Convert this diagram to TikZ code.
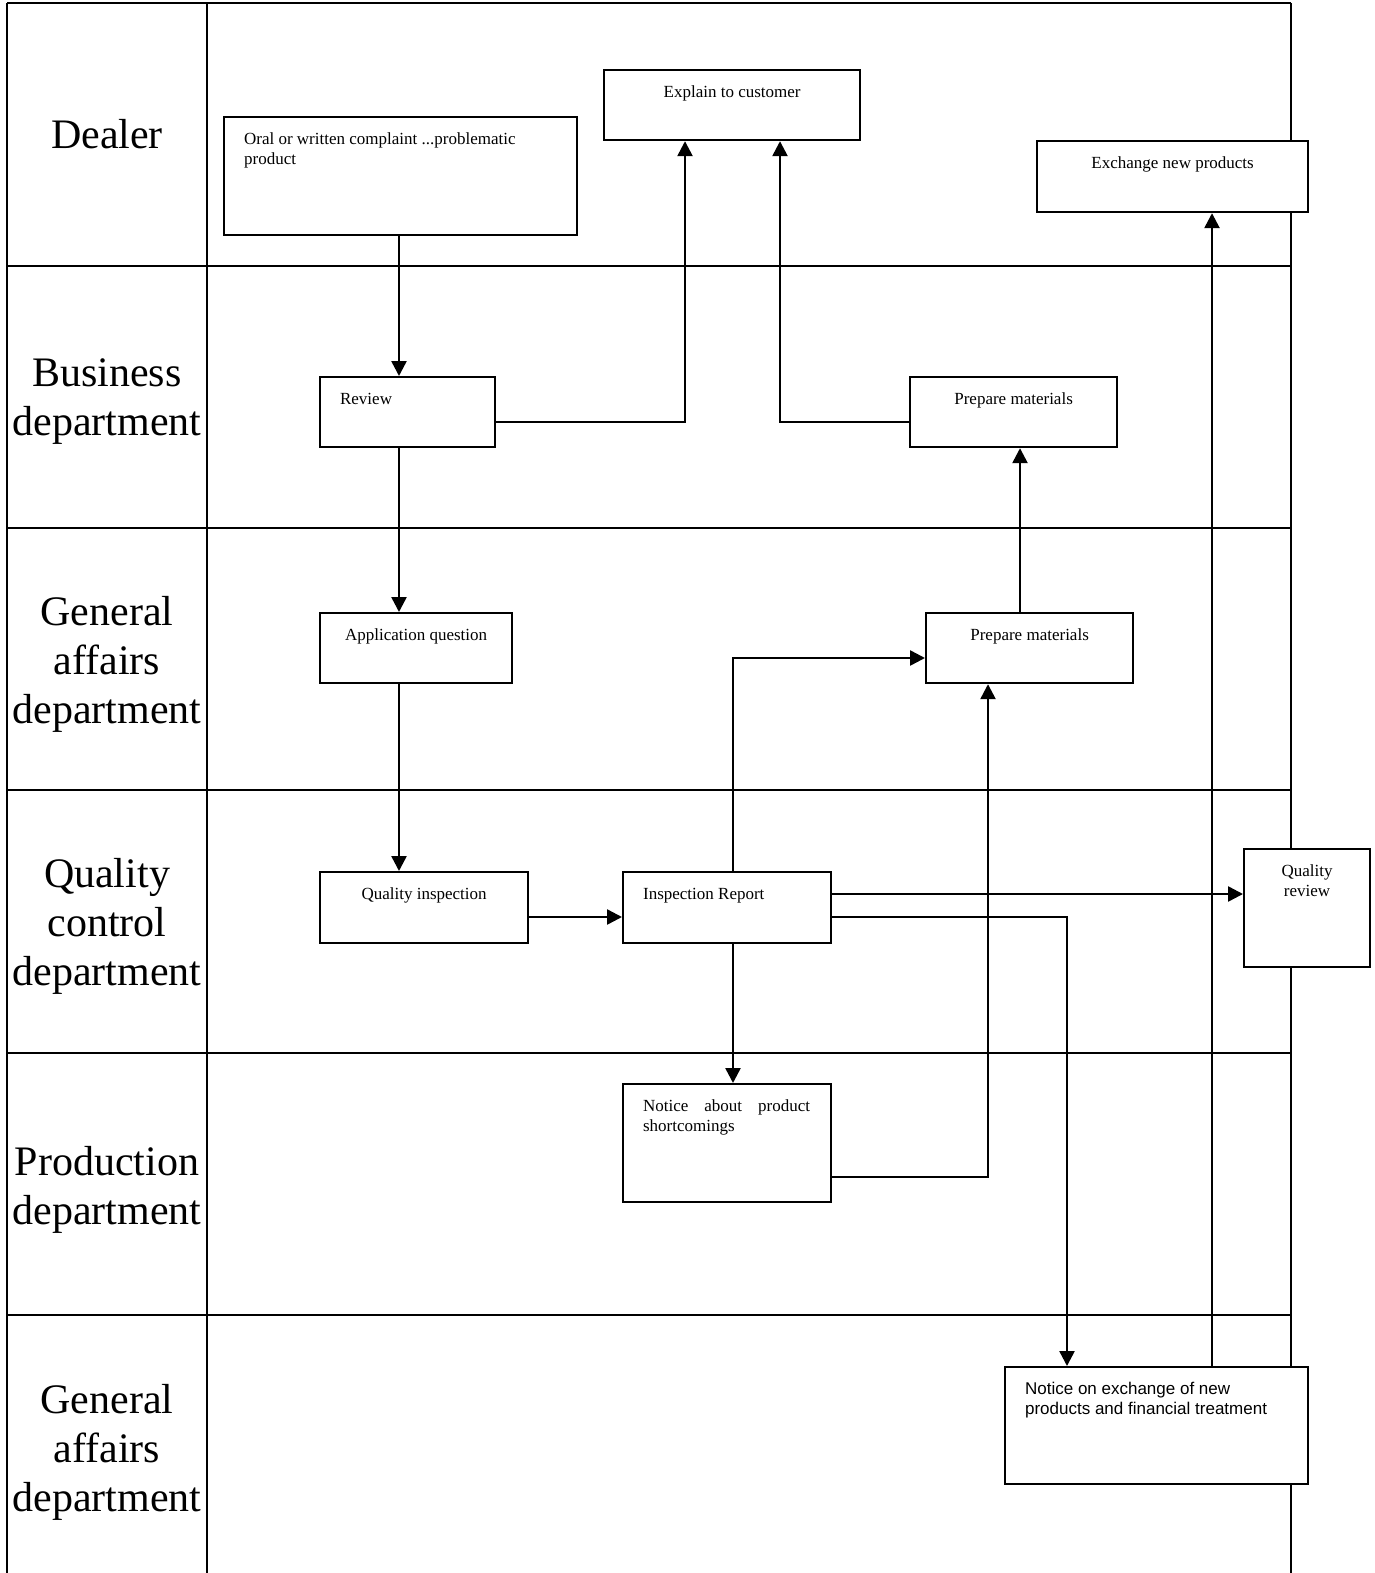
\documentclass[tikz,border=0pt]{standalone}
\usepackage{fontspec}
\setmainfont{Liberation Serif}
\newfontfamily\arialf{Liberation Sans}
\usetikzlibrary{arrows.meta}
\newcommand\bxc[3]{\parbox[c][#2pt][t]{#1pt}{\centering\rule{0pt}{27pt}#3\par}}
\newcommand\bxl[4]{\parbox[c][#2pt][t]{#1pt}{\hspace*{20pt}\parbox[t]{#3pt}{\raggedright\rule{0pt}{27pt}#4}}}
\newcommand\bxj[4]{\parbox[c][#2pt][t]{#1pt}{\hspace*{20pt}\parbox[t]{#3pt}{\rule{0pt}{27pt}#4}}}
\begin{document}
\begin{tikzpicture}[x=1pt,y=-1pt,
  lane/.style={line width=2.2pt},
  box/.style={draw,fill=white,line width=2.2pt,inner sep=0pt,anchor=north west,font=\fontsize{17}{20}\selectfont},
  lanelabel/.style={align=center,font=\fontsize{42}{49}\selectfont,inner sep=0pt},
  arr/.style={line width=2.5pt,-{Triangle[length=15pt,width=15pt]}},
  ln/.style={line width=2.5pt}]
\useasboundingbox (0,0) rectangle (1375,1573);
% lanes
\foreach \y in {3,266,528,790,1053,1315} \draw[lane] (7,\y) -- (1291,\y);
\draw[lane] (7,3) -- (7,1573);
\draw[lane] (207,3) -- (207,1573);
\draw[lane] (1291,3) -- (1291,1573);
% lane labels
\node[lanelabel] (l1) at (107,134) {Dealer};
\node[lanelabel] (l2) at (107,402) {Business\\department};
\node[lanelabel] (l3) at (107,664) {General\\affairs\\department};
\node[lanelabel] (l4) at (107,926) {Quality\\control\\department};
\node[lanelabel] (l5) at (107,1190) {Production\\department};
\node[lanelabel] (l6) at (107,1452) {General\\affairs\\department};
% boxes
\node[box] (oral) at (223,116) {\bxl{353}{118}{313}{Oral or written complaint ...problematic\\product}};
\node[box] (exp) at (603,69) {\bxc{256}{70}{Explain to customer}};
\node[box] (en) at (1036,140) {\bxc{271}{71}{Exchange new products}};
\node[box] (rev) at (319,376) {\bxl{175}{70}{135}{Review}};
\node[box] (pb) at (909,376) {\bxc{207}{70}{Prepare materials}};
\node[box] (app) at (319,612) {\bxc{192}{70}{Application question}};
\node[box] (pg) at (925,612) {\bxc{207}{70}{Prepare materials}};
\node[box] (qi) at (319,871) {\bxc{208}{71}{Quality inspection}};
\node[box] (ir) at (622,871) {\bxl{208}{71}{168}{Inspection Report}};
\node[box] (qr) at (1243,848) {\bxc{126}{118}{Quality\\review}};
\node[box] (ns) at (622,1083) {\bxj{208}{118}{167}{Notice about product\linebreak shortcomings}};
\node[box,font=\arialf\fontsize{17}{20}\selectfont] (ne) at (1004,1366) {\bxl{303}{117}{270}{Notice on exchange of new\\products and financial treatment}};
% connectors
\draw[arr] (oral.south -| 399,0) -- (rev.north -| 399,0);
\draw[arr] (rev.east |- 0,422) -| (exp.south -| 685,0);
\draw[arr] (pb.west |- 0,422) -| (exp.south -| 780,0);
\draw[arr] (rev.south -| 399,0) -- (app.north -| 399,0);
\draw[arr] (app.south -| 399,0) -- (qi.north -| 399,0);
\draw[arr] (qi.east |- 0,917) -- (ir.west |- 0,917);
\draw[arr] (ir.north -| 733,0) |- (pg.west |- 0,658);
\draw[arr] (pg.north -| 1020,0) -- (pb.south -| 1020,0);
\draw[arr] (ir.south -| 733,0) -- (ns.north -| 733,0);
\draw[arr] (ns.east |- 0,1177) -| (pg.south -| 988,0);
\draw[arr] (ir.east |- 0,894) -- (qr.west |- 0,894);
\draw[arr] (ir.east |- 0,917) -| (ne.north -| 1067,0);
\draw[arr] (ne.north -| 1212,0) -- (en.south -| 1212,0);
\end{tikzpicture}
\end{document}
